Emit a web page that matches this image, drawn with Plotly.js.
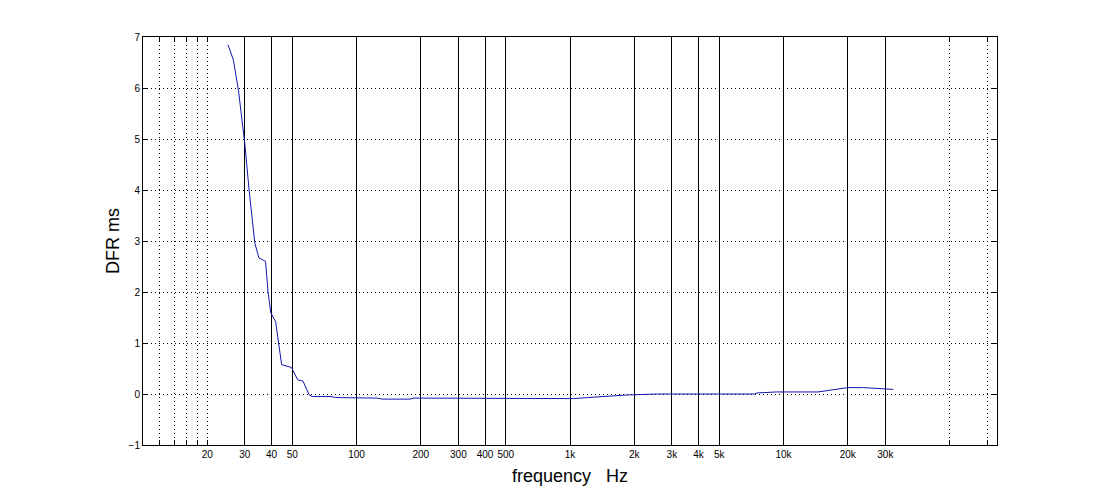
<!DOCTYPE html>
<html>
<head>
<meta charset="utf-8">
<script src="https://cdn.plot.ly/plotly-3.0.1.min.js"></script>
<style>html,body{margin:0;padding:0;background:#fff;}#chart{width:1100px;height:500px;}</style>
</head>
<body>
<div id="chart"></div>
<script>
// Frequency (Hz) and DFR (ms)
const freqHz = [25, 26.5, 28, 30, 31.4, 33, 33.4, 34.9, 37.5, 38.5, 39.7, 41.8, 44.6, 49.6, 53, 56.2, 59.9, 62,
  76, 80, 92, 95, 125, 132, 178, 186, 228, 234, 320, 328, 365, 372, 1040, 1213, 1452, 1832, 2533,
  7300, 7500, 9240, 14500, 18300, 20000, 23700, 28300, 32700];
const dfrMs = [6.85, 6.55, 5.95, 4.9, 4.0, 3.12, 2.96, 2.67, 2.6, 2.01, 1.59, 1.42, 0.575, 0.52, 0.28, 0.25, -0.01, -0.05,
  -0.05, -0.07, -0.07, -0.08, -0.08, -0.1, -0.1, -0.08, -0.08, -0.09, -0.09, -0.08, -0.08, -0.09, -0.09, -0.07, -0.05, -0.02, 0,
  0, 0.02, 0.04, 0.04, 0.1, 0.125, 0.125, 0.1, 0.09];

// Axis tick definitions
const dottedTickVals = [12, 14, 16, 18, 20, 30, 40, 50, 100, 200, 300, 400, 500, 1000, 2000, 3000, 4000, 5000, 10000, 20000, 30000, 60000, 90000];
const dottedTickText = ['', '', '', '', '20', '30', '40', '50', '100', '200', '300', '400', '500', '1k', '2k', '3k', '4k', '5k', '10k', '20k', '30k', '', ''];
const solidGridVals = [30, 40, 50, 100, 200, 300, 400, 500, 1000, 2000, 3000, 4000, 5000, 10000, 20000, 30000];
const yTickVals = [-1, 0, 1, 2, 3, 4, 5, 6, 7];

const trace = {
  x: freqHz, y: dfrMs, type: 'scatter', mode: 'lines',
  line: {color: 'rgb(20,20,170)', width: 1},
  hoverinfo: 'skip'
};

const font = {family: '"Liberation Sans", Arial, sans-serif', color: '#000'};

const layout = {
  width: 1100, height: 500,
  margin: {l: 143, r: 103, t: 37, b: 55},
  paper_bgcolor: '#fff', plot_bgcolor: '#fff',
  showlegend: false,
  font: Object.assign({size: 10}, font),
  xaxis: {
    type: 'log', range: [1, 5],
    tickmode: 'array', tickvals: dottedTickVals, ticktext: dottedTickText,
    showgrid: true, gridcolor: '#000', gridwidth: 1, griddash: '1px,3px',
    minor: {tickmode: 'array', tickvals: solidGridVals, showgrid: true, gridcolor: '#000', gridwidth: 1, griddash: 'solid', ticks: ''},
    ticks: 'inside', ticklen: 5, tickcolor: '#000', tickwidth: 1,
    showline: true, linecolor: '#000', linewidth: 1, mirror: 'ticks',
    zeroline: false,
    tickfont: Object.assign({size: 10}, font),
    title: {text: 'frequency\u00a0\u00a0\u00a0Hz', font: Object.assign({size: 18}, font), standoff: 10},
    automargin: false
  },
  yaxis: {
    range: [-1, 7],
    tickmode: 'array', tickvals: yTickVals,
    showgrid: true, gridcolor: '#000', gridwidth: 1, griddash: '1px,3px',
    ticks: 'inside', ticklen: 5, tickcolor: '#000', tickwidth: 1,
    showline: true, linecolor: '#000', linewidth: 1, mirror: 'ticks',
    zeroline: false,
    tickfont: Object.assign({size: 10}, font),
    title: {text: 'DFR ms', font: Object.assign({size: 18}, font), standoff: 4},
    automargin: false
  }
};

Plotly.newPlot('chart', [trace], layout, {staticPlot: true, displayModeBar: false});
</script>
</body>
</html>
